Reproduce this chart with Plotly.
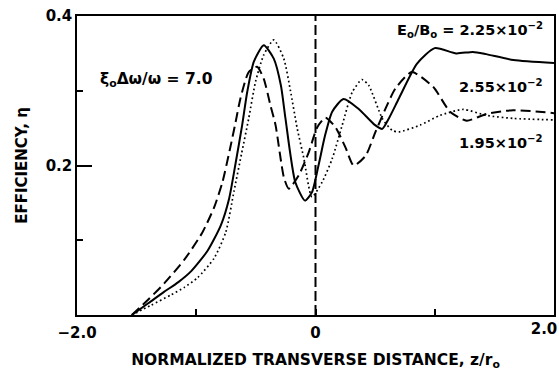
import plotly.graph_objects as go

# Solid: E0/B0 = 2.25e-2
x_225 = [-1.54, -1.4, -1.27, -1.15, -1.04, -0.905, -0.794, -0.724, -0.67, -0.615, -0.573, -0.517, -0.434, -0.35,
         -0.29, -0.252, -0.17, -0.088, -0.03, 0.025, 0.08, 0.14, 0.235, 0.36, 0.50, 0.56, 0.615, 0.70, 0.85,
         1.0, 1.18, 1.32, 1.43, 1.66, 2.0]
y_225 = [0.0, 0.016, 0.031, 0.044, 0.059, 0.086, 0.120, 0.156, 0.203, 0.254, 0.298, 0.339, 0.361, 0.343,
         0.307, 0.263, 0.178, 0.153, 0.164, 0.200, 0.240, 0.272, 0.289, 0.276, 0.254, 0.249, 0.263, 0.290, 0.336,
         0.357, 0.350, 0.352, 0.349, 0.341, 0.337]

# Dashed: E0/B0 = 2.55e-2
x_255 = [-1.54, -1.4, -1.27, -1.1, -0.95, -0.85, -0.78, -0.72, -0.67, -0.629, -0.56, -0.49, -0.434, -0.377,
         -0.335, -0.265, -0.224, -0.14, -0.056, 0.014, 0.084, 0.168, 0.252, 0.32, 0.42, 0.503, 0.587, 0.67,
         0.808, 0.988, 1.128, 1.267, 1.434, 1.657, 2.0]
y_255 = [0.0, 0.021, 0.042, 0.074, 0.110, 0.144, 0.178, 0.220, 0.258, 0.290, 0.325, 0.332, 0.316, 0.280,
         0.254, 0.184, 0.169, 0.187, 0.218, 0.251, 0.264, 0.251, 0.224, 0.200, 0.213, 0.245, 0.276, 0.303,
         0.325, 0.305, 0.272, 0.260, 0.269, 0.274, 0.270]

# Dotted: E0/B0 = 1.95e-2
x_195 = [-1.54, -1.38, -1.211, -1.1, -0.988, -0.85, -0.752, -0.683, -0.62, -0.56, -0.503, -0.434, -0.35,
         -0.266, -0.21, -0.154, -0.098, -0.03, 0.056, 0.14, 0.224, 0.308, 0.39, 0.447, 0.56, 0.643, 0.70,
         0.877, 1.044, 1.24, 1.434, 1.657, 2.0]
y_195 = [0.0, 0.013, 0.027, 0.037, 0.050, 0.076, 0.111, 0.166, 0.216, 0.263, 0.312, 0.348, 0.368,
         0.343, 0.300, 0.250, 0.210, 0.158, 0.178, 0.209, 0.254, 0.298, 0.315, 0.307, 0.263, 0.247, 0.245,
         0.254, 0.267, 0.275, 0.267, 0.263, 0.261]

x_tickvals = [-2, 0, 2]
x_ticktext = ["\u22122.0", "0", ""]
x_end_tick = [2]
x_end_text = ["2.0"]
x_minor = [-1, 1]
y_tickvals = [0.2, 0.4]
y_ticktext = ["0.2", "0.4"]
y_minor = [0.1, 0.3]

FONT = "DejaVu Sans"
SMOOTH = 0.6
fig = go.Figure()
fig.add_trace(go.Scatter(x=x_225, y=y_225, mode="lines",
                         line=dict(color="black", width=2, shape="spline", smoothing=SMOOTH)))
fig.add_trace(go.Scatter(x=x_255, y=y_255, mode="lines",
                         line=dict(color="black", width=2, dash="10px,5px", shape="spline", smoothing=SMOOTH)))
fig.add_trace(go.Scatter(x=x_195, y=y_195, mode="lines",
                         line=dict(color="black", width=1.7, dash="1.7px,2.8px", shape="spline", smoothing=SMOOTH)))
# invisible trace so the overlay axis carrying the "2.0" label is drawn
fig.add_trace(go.Scatter(x=x_end_tick, y=[0], xaxis="x2", mode="markers",
                         marker=dict(opacity=0), hoverinfo="skip"))

fig.add_shape(type="line", x0=0, x1=0, y0=0, y1=0.4, xref="x", yref="y",
              line=dict(color="black", width=2, dash="10px,4px"))

ann_font = dict(family=FONT, size=14.5, color="black", weight="bold")
fig.add_annotation(x=-1.337, y=0.315, text="\u03be<sub>o</sub>\u0394\u03c9/\u03c9 = 7.0", showarrow=False,
                   xanchor="center", yanchor="middle",
                   font=dict(family=FONT, size=15.5, color="black", weight="bold"))
fig.add_annotation(x=1.925, y=0.381, text="E<sub>o</sub>/B<sub>o</sub> = 2.25\u00d710<sup>\u22122</sup>",
                   showarrow=False, xanchor="right", yanchor="middle", font=ann_font)
fig.add_annotation(x=1.925, y=0.307, text="2.55\u00d710<sup>\u22122</sup>",
                   showarrow=False, xanchor="right", yanchor="middle", font=ann_font)
fig.add_annotation(x=1.925, y=0.232, text="1.95\u00d710<sup>\u22122</sup>",
                   showarrow=False, xanchor="right", yanchor="middle", font=ann_font)

tick_font = dict(family=FONT, size=15, color="black", weight="bold")
fig.update_layout(
    xaxis=dict(range=[-2, 2], tickmode="array", tickvals=x_tickvals, ticktext=x_ticktext,
               ticks="inside", ticklen=6, tickwidth=1.5, tickcolor="black",
               minor=dict(tickmode="array", tickvals=x_minor, ticks="inside", ticklen=6, tickwidth=1.5,
                          tickcolor="black", showgrid=False),
               showline=True, mirror=True, linecolor="black", linewidth=1.5,
               showgrid=False, zeroline=False, tickfont=tick_font, ticklabelstandoff=3,
               title=dict(text="NORMALIZED TRANSVERSE DISTANCE, z/r<sub>o</sub>",
                          font=dict(family=FONT, size=15.5, color="black", weight="bold"), standoff=20)),
    xaxis2=dict(range=[-2, 2], overlaying="x", anchor="y", side="bottom", tickmode="array",
                tickvals=x_end_tick, ticktext=x_end_text, ticks="", showline=False, showgrid=False,
                zeroline=False, tickfont=tick_font, ticklabelshift=-10, ticklabelstandoff=3),
    yaxis=dict(range=[0, 0.4], tickmode="array", tickvals=y_tickvals, ticktext=y_ticktext,
               ticks="inside", ticklen=15, tickwidth=1.5, tickcolor="black",
               minor=dict(tickmode="array", tickvals=y_minor, ticks="inside", ticklen=6, tickwidth=1.5,
                          tickcolor="black", showgrid=False),
               showline=True, mirror=True, linecolor="black", linewidth=1.5,
               showgrid=False, zeroline=False, tickfont=tick_font,
               title=dict(text="EFFICIENCY, \u03b7",
                          font=dict(family=FONT, size=15, color="black", weight="bold"), standoff=14)),
    width=559, height=371, margin=dict(l=77, r=5, t=16, b=56, autoexpand=False),
    plot_bgcolor="white", paper_bgcolor="white", showlegend=False)

fig.write_html("out.html")
